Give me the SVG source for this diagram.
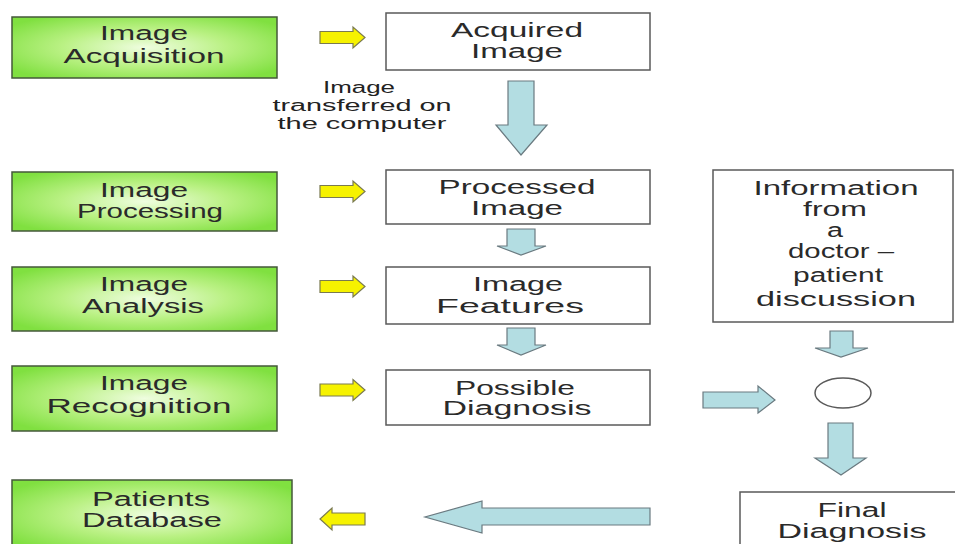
<svg xmlns="http://www.w3.org/2000/svg" width="955" height="544" viewBox="0 0 955 544">
<defs>
<radialGradient id="gg" cx="50%" cy="50%" r="62%">
<stop offset="0" stop-color="#effde0"/>
<stop offset="0.5" stop-color="#baf184"/>
<stop offset="1" stop-color="#80e040"/>
</radialGradient>
<style>
.g{fill:url(#gg);stroke:#44583a;stroke-width:1.5}
.w{fill:#fff;stroke:#5a5a5a;stroke-width:1.5}
.t{font-family:"Liberation Sans",Arial,sans-serif;font-size:20px;fill:#2a2a2a;text-anchor:middle}
.s{font-family:"Liberation Sans",Arial,sans-serif;font-size:16px;fill:#222;text-anchor:middle}
.ya{fill:#f6f200;stroke:#7a7a50;stroke-width:1.2}
.ba{fill:#b3dde2;stroke:#6a7a80;stroke-width:1.2}
</style>
</defs>
<rect width="955" height="544" fill="#fff"/>

<g id="image-acquisition">
<rect class="g" x="12" y="17" width="265" height="61"/>
<text class="t" x="144" y="40" textLength="88" lengthAdjust="spacingAndGlyphs">Image</text>
<text class="t" x="144" y="63" textLength="161" lengthAdjust="spacingAndGlyphs">Acquisition</text>
</g>
<g id="image-processing">
<rect class="g" x="12" y="172" width="265" height="59"/>
<text class="t" x="144" y="197" textLength="88" lengthAdjust="spacingAndGlyphs">Image</text>
<text class="t" x="150" y="218" textLength="146" lengthAdjust="spacingAndGlyphs">Processing</text>
</g>
<g id="image-analysis">
<rect class="g" x="12" y="267" width="265" height="64"/>
<text class="t" x="144" y="291" textLength="88" lengthAdjust="spacingAndGlyphs">Image</text>
<text class="t" x="143" y="313" textLength="122" lengthAdjust="spacingAndGlyphs">Analysis</text>
</g>
<g id="image-recognition">
<rect class="g" x="12" y="366" width="265" height="65"/>
<text class="t" x="144" y="390" textLength="88" lengthAdjust="spacingAndGlyphs">Image</text>
<text class="t" x="139" y="413" textLength="185" lengthAdjust="spacingAndGlyphs">Recognition</text>
</g>
<g id="patients-database">
<rect class="g" x="12" y="480" width="280" height="70"/>
<text class="t" x="151" y="506" textLength="118" lengthAdjust="spacingAndGlyphs">Patients</text>
<text class="t" x="152" y="527" textLength="140" lengthAdjust="spacingAndGlyphs">Database</text>
</g>

<g id="acquired-image">
<rect class="w" x="386" y="13" width="264" height="57"/>
<text class="t" x="517" y="37" textLength="132" lengthAdjust="spacingAndGlyphs">Acquired</text>
<text class="t" x="517" y="58" textLength="92" lengthAdjust="spacingAndGlyphs">Image</text>
</g>
<g id="processed-image">
<rect class="w" x="386" y="170" width="264" height="54"/>
<text class="t" x="517" y="194" textLength="157" lengthAdjust="spacingAndGlyphs">Processed</text>
<text class="t" x="517" y="215" textLength="92" lengthAdjust="spacingAndGlyphs">Image</text>
</g>
<g id="image-features">
<rect class="w" x="386" y="267" width="264" height="57"/>
<text class="t" x="518" y="291" textLength="90" lengthAdjust="spacingAndGlyphs">Image</text>
<text class="t" x="510" y="313" textLength="148" lengthAdjust="spacingAndGlyphs">Features</text>
</g>
<g id="possible-diagnosis">
<rect class="w" x="386" y="370" width="264" height="55"/>
<text class="t" x="515" y="395" textLength="120" lengthAdjust="spacingAndGlyphs">Possible</text>
<text class="t" x="517" y="415" textLength="149" lengthAdjust="spacingAndGlyphs">Diagnosis</text>
</g>

<g id="doctor-info">
<rect class="w" x="713" y="170" width="240" height="152"/>
<text class="t" x="836" y="195" textLength="165" lengthAdjust="spacingAndGlyphs">Information</text>
<text class="t" x="835" y="216" textLength="64" lengthAdjust="spacingAndGlyphs">from</text>
<text class="t" x="835" y="237" textLength="16" lengthAdjust="spacingAndGlyphs">a</text>
<text class="t" x="841" y="258" textLength="106" lengthAdjust="spacingAndGlyphs">doctor –</text>
<text class="t" x="838" y="282" textLength="90" lengthAdjust="spacingAndGlyphs">patient</text>
<text class="t" x="836" y="306" textLength="160" lengthAdjust="spacingAndGlyphs">discussion</text>
</g>
<g id="merge">
<ellipse class="w" cx="843" cy="393" rx="28" ry="15"/>
</g>
<g id="final-diagnosis">
<rect class="w" x="740" y="492" width="230" height="70"/>
<text class="t" x="852" y="517" textLength="69" lengthAdjust="spacingAndGlyphs">Final</text>
<text class="t" x="852" y="538" textLength="149" lengthAdjust="spacingAndGlyphs">Diagnosis</text>
</g>

<g id="transfer-label">
<text class="s" x="359" y="93" textLength="72" lengthAdjust="spacingAndGlyphs">Image</text>
<text class="s" x="362" y="111" textLength="179" lengthAdjust="spacingAndGlyphs">transferred on</text>
<text class="s" x="362" y="129" textLength="169" lengthAdjust="spacingAndGlyphs">the computer</text>
</g>

<g id="connectors">
<polygon class="ya" points="320,31.5 353,31.5 353,27 365,37.5 353,48 353,43.5 320,43.5"/>
<polygon class="ya" points="320,185.5 353,185.5 353,181 365,191.5 353,202 353,197.5 320,197.5"/>
<polygon class="ya" points="320,280.5 353,280.5 353,276 365,286.5 353,297 353,292.5 320,292.5"/>
<polygon class="ya" points="320,384 353,384 353,379.5 365,390 353,400.5 353,396 320,396"/>
<polygon class="ya" points="365,513 332,513 332,508 320,519 332,530 332,525 365,525"/>

<polygon class="ba" points="508,81 534,81 534,125 547,125 521,155 496,125 508,125"/>
<polygon class="ba" points="507,229 535,229 535,246 546,246 521,255 497,246 507,246"/>
<polygon class="ba" points="507,328 535,328 535,345 546,345 521,355 497,345 507,345"/>
<polygon class="ba" points="830,331 853,331 853,348 868,348 841,357 815,348 830,348"/>
<polygon class="ba" points="703,392 758,392 758,386 775,400 758,413 758,408 703,408"/>
<polygon class="ba" points="828,423 853,423 853,458 866,458 841,475 815,458 828,458"/>
<polygon class="ba" points="650,508 482,508 482,501 425,517 482,533 482,525 650,525"/>
</g>
</svg>
